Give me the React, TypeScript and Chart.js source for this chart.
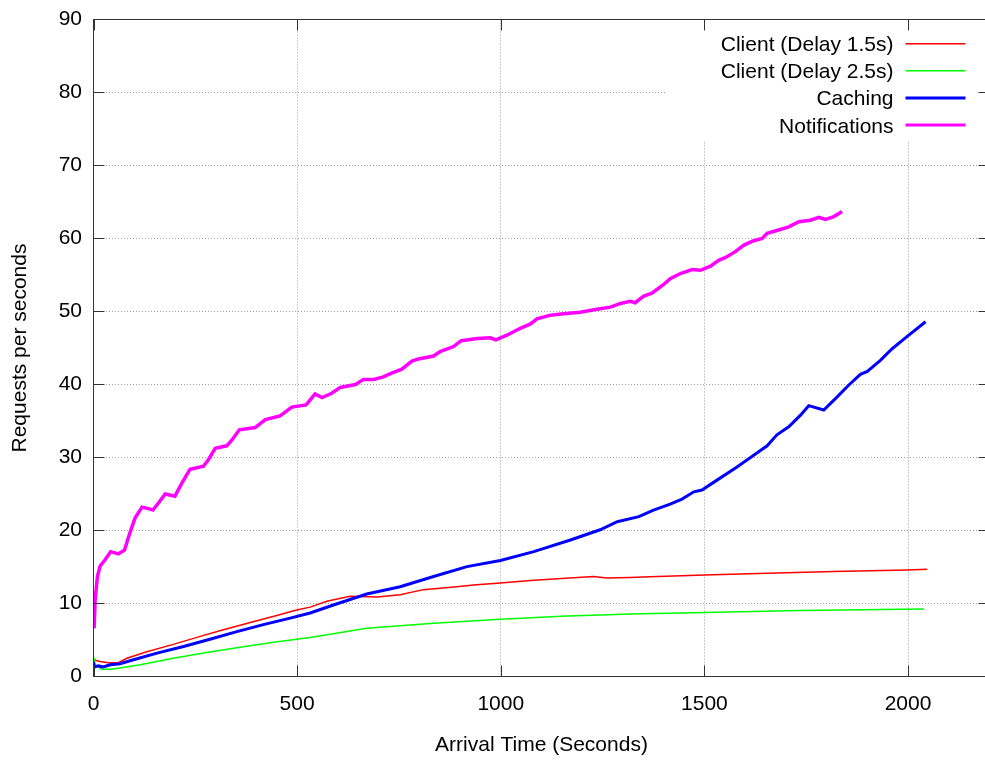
import React, { useEffect, useRef } from "react";
import { Chart, registerables } from "chart.js";

Chart.register(...registerables);

// ---------- data ----------
const seriesLabels = ["Client (Delay 1.5s)", "Client (Delay 2.5s)", "Caching", "Notifications"];
const seriesColors = ["#ff0000", "#00ff00", "#0000ff", "#ff00ff"];
const seriesWidths = [1.5, 1.5, 3, 3.5];

const client15X = [0, 16, 37, 61, 82, 131, 196, 262, 319, 385, 450, 499, 532, 573, 630, 696, 753, 810, 892, 933, 999, 1081, 1228, 1260, 1318, 1367, 1500, 1654, 1818, 1998, 2047];
const client15Y = [2.3, 2.05, 1.9, 1.9, 2.5, 3.4, 4.4, 5.5, 6.4, 7.4, 8.35, 9.1, 9.5, 10.3, 11.0, 10.9, 11.2, 11.9, 12.3, 12.55, 12.8, 13.2, 13.7, 13.5, 13.55, 13.65, 13.9, 14.15, 14.4, 14.6, 14.7];

const client25X = [0, 4, 20, 41, 65, 115, 196, 278, 360, 442, 499, 532, 671, 835, 999, 1163, 1244, 1318, 1500, 1736, 2039];
const client25Y = [2.75, 1.6, 1.0, 1.0, 1.15, 1.6, 2.5, 3.3, 4.0, 4.7, 5.1, 5.35, 6.6, 7.3, 7.85, 8.3, 8.44, 8.55, 8.76, 9.03, 9.26];

const cachingX = [0, 2, 12, 24, 41, 65, 98, 156, 221, 286, 352, 417, 483, 532, 589, 671, 753, 835, 917, 999, 1081, 1171, 1244, 1286, 1339, 1375, 1416, 1445, 1474, 1494, 1531, 1580, 1621, 1654, 1678, 1707, 1736, 1756, 1793, 1826, 1854, 1883, 1900, 1932, 1961, 1998, 2043];
const cachingY = [2.0, 1.3, 1.45, 1.3, 1.6, 1.75, 2.3, 3.2, 4.1, 5.1, 6.15, 7.1, 8.0, 8.7, 9.8, 11.3, 12.3, 13.7, 15.05, 15.9, 17.1, 18.7, 20.1, 21.2, 21.9, 22.8, 23.6, 24.3, 25.3, 25.55, 26.9, 28.7, 30.3, 31.6, 33.1, 34.2, 35.8, 37.1, 36.5, 38.3, 39.9, 41.4, 41.8, 43.3, 44.9, 46.6, 48.6];

const notifX = [1.5, 4, 9.6, 16, 28.5, 42, 61, 76, 90, 102, 119, 135, 146, 160, 176, 200, 217, 237, 270, 282, 299, 327, 340, 358, 397, 422, 458, 487, 522, 544, 561, 585, 606, 643, 663, 688, 712, 729, 757, 782, 798, 835, 851, 884, 903, 942, 974, 988, 1015, 1048, 1073, 1089, 1122, 1154, 1195, 1236, 1269, 1294, 1318, 1330, 1351, 1371, 1400, 1416, 1441, 1470, 1490, 1515, 1535, 1552, 1576, 1597, 1621, 1642, 1654, 1678, 1707, 1732, 1760, 1781, 1797, 1818, 1838];
const notifY = [6.6, 10.5, 13.7, 15.1, 16.0, 17.1, 16.8, 17.3, 19.8, 21.7, 23.2, 23.0, 22.8, 23.8, 25.0, 24.7, 26.5, 28.4, 28.8, 29.7, 31.25, 31.6, 32.4, 33.8, 34.1, 35.2, 35.7, 36.9, 37.2, 38.7, 38.2, 38.8, 39.6, 40.0, 40.7, 40.7, 41.05, 41.5, 42.1, 43.2, 43.5, 43.9, 44.5, 45.2, 46.0, 46.3, 46.4, 46.1, 46.75, 47.7, 48.3, 49.0, 49.5, 49.7, 49.9, 50.3, 50.6, 51.1, 51.4, 51.2, 52.1, 52.5, 53.7, 54.5, 55.2, 55.75, 55.65, 56.2, 57.0, 57.4, 58.2, 59.1, 59.7, 60.0, 60.7, 61.1, 61.6, 62.3, 62.5, 62.9, 62.6, 63.0, 63.7];

const xTicks = [0, 500, 1000, 1500, 2000];
const yTicks = [0, 10, 20, 30, 40, 50, 60, 70, 80, 90];
const xRange = [0, 2200];
const yRange = [0, 90];
const xTitle = "Arrival Time (Seconds)";
const yTitle = "Requests per seconds";

const FONT = '"Liberation Sans", Arial, Helvetica, sans-serif';

function zip(xs: number[], ys: number[]) {
  return xs.map((x, i) => ({ x, y: ys[i] }));
}

const framePlugin = {
  id: "gnuplotFrame",
  beforeDatasetsDraw(chart: any) {
    const { ctx, chartArea: a } = chart;
    ctx.save();
    const keyLeft = a.right - 324;
    const keyBottom = a.top + 121;
    ctx.fillStyle = "#ffffff";
    ctx.fillRect(keyLeft, a.top + 1, a.right - keyLeft, keyBottom - a.top - 1);
    ctx.font = "21px " + FONT;
    ctx.textAlign = "right";
    ctx.textBaseline = "alphabetic";
    chart.data.datasets.forEach((ds: any, i: number) => {
      const y = a.top + 24.2 + i * 27.1;
      ctx.fillStyle = "#000000";
      ctx.fillText(ds.label, a.right - 96, y + 7.5);
      ctx.beginPath();
      ctx.strokeStyle = ds.borderColor;
      ctx.lineWidth = Math.min(ds.borderWidth, 3);
      ctx.moveTo(a.right - 84, y);
      ctx.lineTo(a.right - 24, y);
      ctx.stroke();
    });
    ctx.restore();
  },
  afterDraw(chart: any) {
    const { ctx, chartArea: a, scales } = chart;
    ctx.save();
    ctx.strokeStyle = "#333333";
    ctx.lineWidth = 1;
    const tl = 11;
    ctx.beginPath();
    scales.x.ticks.forEach((t: any) => {
      const px = Math.round(scales.x.getPixelForValue(t.value)) + 0.5;
      ctx.moveTo(px, a.bottom);
      ctx.lineTo(px, a.bottom - tl);
      ctx.moveTo(px, a.top);
      ctx.lineTo(px, a.top + tl);
    });
    scales.y.ticks.forEach((t: any) => {
      const py = Math.round(scales.y.getPixelForValue(t.value) - 0.5) + 0.5;
      ctx.moveTo(a.left, py);
      ctx.lineTo(a.left + tl, py);
      ctx.moveTo(a.right, py);
      ctx.lineTo(a.right - tl, py);
    });
    ctx.stroke();
    ctx.strokeRect(a.left, a.top, a.right - a.left, a.bottom - a.top);
    ctx.restore();
  },
};

export default function App() {
  const ref = useRef<HTMLCanvasElement | null>(null);

  useEffect(() => {
    if (!ref.current) return;
    const xs = [client15X, client25X, cachingX, notifX];
    const ys = [client15Y, client25Y, cachingY, notifY];
    const chart = new Chart(ref.current, {
      type: "line",
      data: {
        datasets: seriesLabels.map((label, i) => ({
          label,
          data: zip(xs[i], ys[i]),
          borderColor: seriesColors[i],
          backgroundColor: seriesColors[i],
          borderWidth: seriesWidths[i],
          pointRadius: 0,
          tension: 0,
          fill: false,
          order: 3 - i,
        })),
      },
      options: {
        animation: false,
        responsive: false,
        devicePixelRatio: 1,
        layout: { padding: { left: 0, top: 19.5, right: 5.5, bottom: 0 } },
        plugins: { legend: { display: false }, tooltip: { enabled: false } },
        font: { family: FONT, size: 21 },
        scales: {
          x: {
            type: "linear",
            min: xRange[0],
            max: xRange[1],
            afterBuildTicks: (scale: any) => {
              scale.ticks = xTicks.map((v) => ({ value: v }));
            },
            afterFit: (scale: any) => {
              scale.height = 86.5;
              scale.paddingLeft = 0;
              scale.paddingRight = 0;
              scale.paddingTop = 0;
              scale.paddingBottom = 0;
            },
            ticks: {
              color: "#000000",
              font: { family: FONT, size: 21 },
              padding: 15,
              maxRotation: 0,
              autoSkip: false,
              callback: (v: any) => String(v),
            },
            grid: { color: "#9a9a9a", lineWidth: 1, drawTicks: false },
            border: { display: false, dash: [1, 2] },
            title: {
              display: true,
              text: xTitle,
              color: "#000000",
              font: { family: FONT, size: 21 },
              padding: { top: 0, bottom: 5 },
            },
          },
          y: {
            type: "linear",
            min: yRange[0],
            max: yRange[1],
            afterBuildTicks: (scale: any) => {
              scale.ticks = yTicks.map((v) => ({ value: v }));
            },
            afterFit: (scale: any) => {
              scale.width = 93.5;
              scale.paddingLeft = 0;
              scale.paddingRight = 0;
              scale.paddingTop = 0;
              scale.paddingBottom = 0;
            },
            ticks: {
              color: "#000000",
              font: { family: FONT, size: 21 },
              padding: 11.5,
              autoSkip: false,
              callback: (v: any) => String(v),
            },
            grid: { color: "#9a9a9a", lineWidth: 1, drawTicks: false },
            border: { display: false, dash: [1, 2] },
            title: {
              display: true,
              text: yTitle,
              color: "#000000",
              font: { family: FONT, size: 21 },
              padding: { top: 8, bottom: 0 },
            },
          },
        },
      } as any,
      plugins: [framePlugin],
    });
    return () => chart.destroy();
  }, []);

  return (
    <div
      style={{
        position: "fixed",
        left: 0,
        top: 0,
        width: 985,
        height: 763,
        overflow: "hidden",
        background: "#ffffff",
      }}
    >
      <canvas ref={ref} width={995} height={763} style={{ display: "block" }} />
    </div>
  );
}
